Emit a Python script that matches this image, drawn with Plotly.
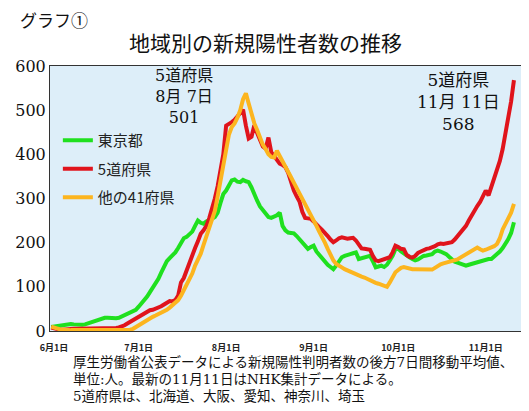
import pandas as pd
import plotly.graph_objects as go

# 7-day moving average of new positive cases, daily from 2020-05-31 to 2020-11-11
start_date = "2020-05-31"

tokyo = [
    9, 10, 11, 12, 14, 15, 15, 16, 15, 14,
    14, 14, 15, 17, 20, 23, 25, 27, 29, 30,
    30, 29, 29, 29, 30, 33, 36, 39, 42, 45,
    48, 55, 62, 68, 78, 88, 98, 105, 118, 132,
    145, 158, 165, 171, 178, 188, 200, 210, 213, 218,
    225, 238, 250, 245, 243, 248, 250, 254, 258, 268,
    290, 310, 318, 330, 341, 343, 338, 337, 342, 339,
    337, 325, 308, 295, 282, 273, 265, 258, 256, 258,
    262, 268, 238, 228, 223, 222, 221, 215, 208, 201,
    193, 186, 190, 193, 180, 172, 166, 158, 150, 145,
    140, 148, 158, 167, 170, 173, 174, 176, 178, 163,
    165, 167, 169, 170, 158, 144, 146, 148, 145, 150,
    160, 170, 185, 186, 180, 175, 170, 167, 163, 160,
    162, 166, 170, 171, 172, 174, 180, 182, 180, 177,
    174, 168, 162, 157, 155, 152, 150, 148, 150, 152,
    154, 156, 158, 160, 162, 163, 163, 168, 175, 180,
    188, 197, 208, 222, 246,
]

five_prefs = [
    8, 6, 4, 3, 3, 4, 5, 5, 5, 5,
    5, 5, 5, 6, 6, 6, 6, 7, 7, 7,
    7, 7, 7, 7, 8, 10, 13, 17, 21, 25,
    28, 31, 36, 40, 44, 47, 48, 50, 53, 56,
    60, 64, 68, 67, 70, 80, 110, 120, 138, 152,
    170, 188, 203, 220, 228, 238, 255, 275, 300, 328,
    360, 400, 465, 468, 473, 478, 485, 493, 501, 465,
    436, 440, 466, 448, 432, 418, 413, 438, 405, 395,
    385, 379, 376, 371, 358, 335, 318, 305, 293, 270,
    256, 255, 254, 248, 240, 235, 229, 223, 215, 207,
    201, 205, 210, 212, 210, 209, 210, 211, 205, 195,
    187, 186, 185, 184, 170, 160, 158, 160, 162, 164,
    167, 178, 193, 190, 186, 185, 172, 168, 166, 170,
    177, 180, 184, 186, 187, 189, 192, 196, 198, 197,
    198, 200, 201, 207, 215, 222, 230, 238, 250, 262,
    272, 283, 292, 305, 318, 307, 325, 343, 362, 385,
    412, 445, 485, 520, 568,
]

other_41 = [
    10, 9, 6, 4, 3, 2, 2, 2, 2, 2,
    2, 2, 2, 1, 1, 2, 2, 2, 2, 2,
    2, 2, 2, 2, 2, 2, 2, 3, 3, 5,
    9, 13, 18, 22, 26, 30, 32, 35, 38, 41,
    44, 48, 53, 58, 63, 70, 80, 92, 104, 115,
    130, 148, 160, 175, 195, 215, 232, 250, 272, 305,
    340, 380, 420, 445, 462, 470, 483, 500, 525, 538,
    515, 492, 470, 455, 438, 422, 412, 400, 394, 393,
    408, 395, 383, 372, 360, 348, 336, 324, 312, 300,
    290, 278, 265, 252, 238, 225, 214, 200, 186, 172,
    160, 152, 147, 144, 140, 137, 133, 130, 128, 125,
    123, 121, 118, 114, 110, 109, 107, 105, 102, 100,
    110, 122, 133, 138, 143, 145, 143, 141, 140, 140,
    140, 139, 139, 138, 138, 139, 143, 148, 151, 153,
    155, 157, 158, 159, 162, 166, 170, 174, 178, 182,
    186, 189, 185, 182, 184, 186, 188, 192, 197, 210,
    230, 242, 252, 268, 288,
]

series_names = ["東京都", "5道府県", "他の41府県"]
series_colors = ["#1fe01f", "#e0141c", "#fcb51f"]

tick_dates = ["2020-06-01", "2020-07-01", "2020-08-01", "2020-09-01", "2020-10-01", "2020-11-01"]
tick_labels = ["6月1日", "7月1日", "8月1日", "9月1日", "10月1日", "11月1日"]

callout_peak = "5道府県<br>8月 7日<br>501"
callout_last = "5道府県<br>11月 11日<br>568"
note_lines = [
    "厚生労働省公表データによる新規陽性判明者数の後方7日間移動平均値、",
    "単位:人。最新の11月11日はNHK集計データによる。",
    "5道府県は、北海道、大阪、愛知、神奈川、埼玉",
]

dates = pd.date_range(start_date, periods=len(tokyo), freq="D")

# page sits inside the default 8px body margin, so work in page pixels
OFF = 8
W, H = 529 - OFF, 411 - OFF
X0, X1, Y0, Y1 = 43, 522, 66, 331  # plot area on the page


def px(x):
    return (x - X0) / (X1 - X0)


def py(y):
    return (Y1 - y) / (Y1 - Y0)


SERIF = "DejaVu Serif, Noto Sans CJK JP"
SANS = "Noto Sans CJK JP"

fig = go.Figure()
for i, (name, vals) in enumerate(zip(series_names, [tokyo, five_prefs, other_41])):
    fig.add_trace(go.Scatter(
        x=dates, y=vals, mode="lines", name=name,
        line=dict(color=series_colors[i], width=4),
        legendgroup=name,
    ))


def text(s, x, y, size, family, xanchor="center"):
    fig.add_annotation(text=s, xref="paper", yref="paper", x=px(x), y=py(y),
                       xanchor=xanchor, yanchor="middle", showarrow=False,
                       font=dict(family=family, size=size, color="#111"))


# header
text("グラフ①", 10, 19, 17, SANS, "left")
text("地域別の新規陽性者数の推移", 262, 42, 21, SANS)

# callouts
text(callout_peak, 179, 96, 16, SERIF)
text(callout_last, 458, 102, 17, SERIF)

# footnote
for s, y in zip(note_lines, [362, 379, 396]):
    text(s, 64, y, 13.5, SERIF, "left")

fig.update_xaxes(
    range=["2020-05-30 14:00", "2020-11-13 12:00"],
    tickvals=tick_dates, ticktext=tick_labels,
    tickfont=dict(family=SANS, size=9, color="#222", weight="bold"),
    ticks="outside", ticklen=8, tickcolor="rgba(0,0,0,0)",
    showgrid=False, zeroline=False,
    showline=True, linecolor="#333", linewidth=1, mirror=True,
)
fig.update_yaxes(
    range=[0, 600], tickvals=[0, 100, 200, 300, 400, 500, 600],
    tickfont=dict(family=SERIF, size=16, color="#111"),
    showgrid=False, zeroline=False,
    showline=True, linecolor="#333", linewidth=1, mirror=True,
)

fig.update_layout(
    width=W, height=H,
    margin=dict(l=X0 - OFF, r=W + OFF - X1, t=Y0 - OFF, b=H + OFF - Y1),
    paper_bgcolor="white",
    plot_bgcolor="#ddeef9",
    legend=dict(x=px(51), y=py(124), xanchor="left", yanchor="top",
                bgcolor="rgba(0,0,0,0)", borderwidth=0, tracegroupgap=6,
                font=dict(family=SANS, size=15, color="#222")),
    showlegend=True,
)

fig.write_html("out.html")
